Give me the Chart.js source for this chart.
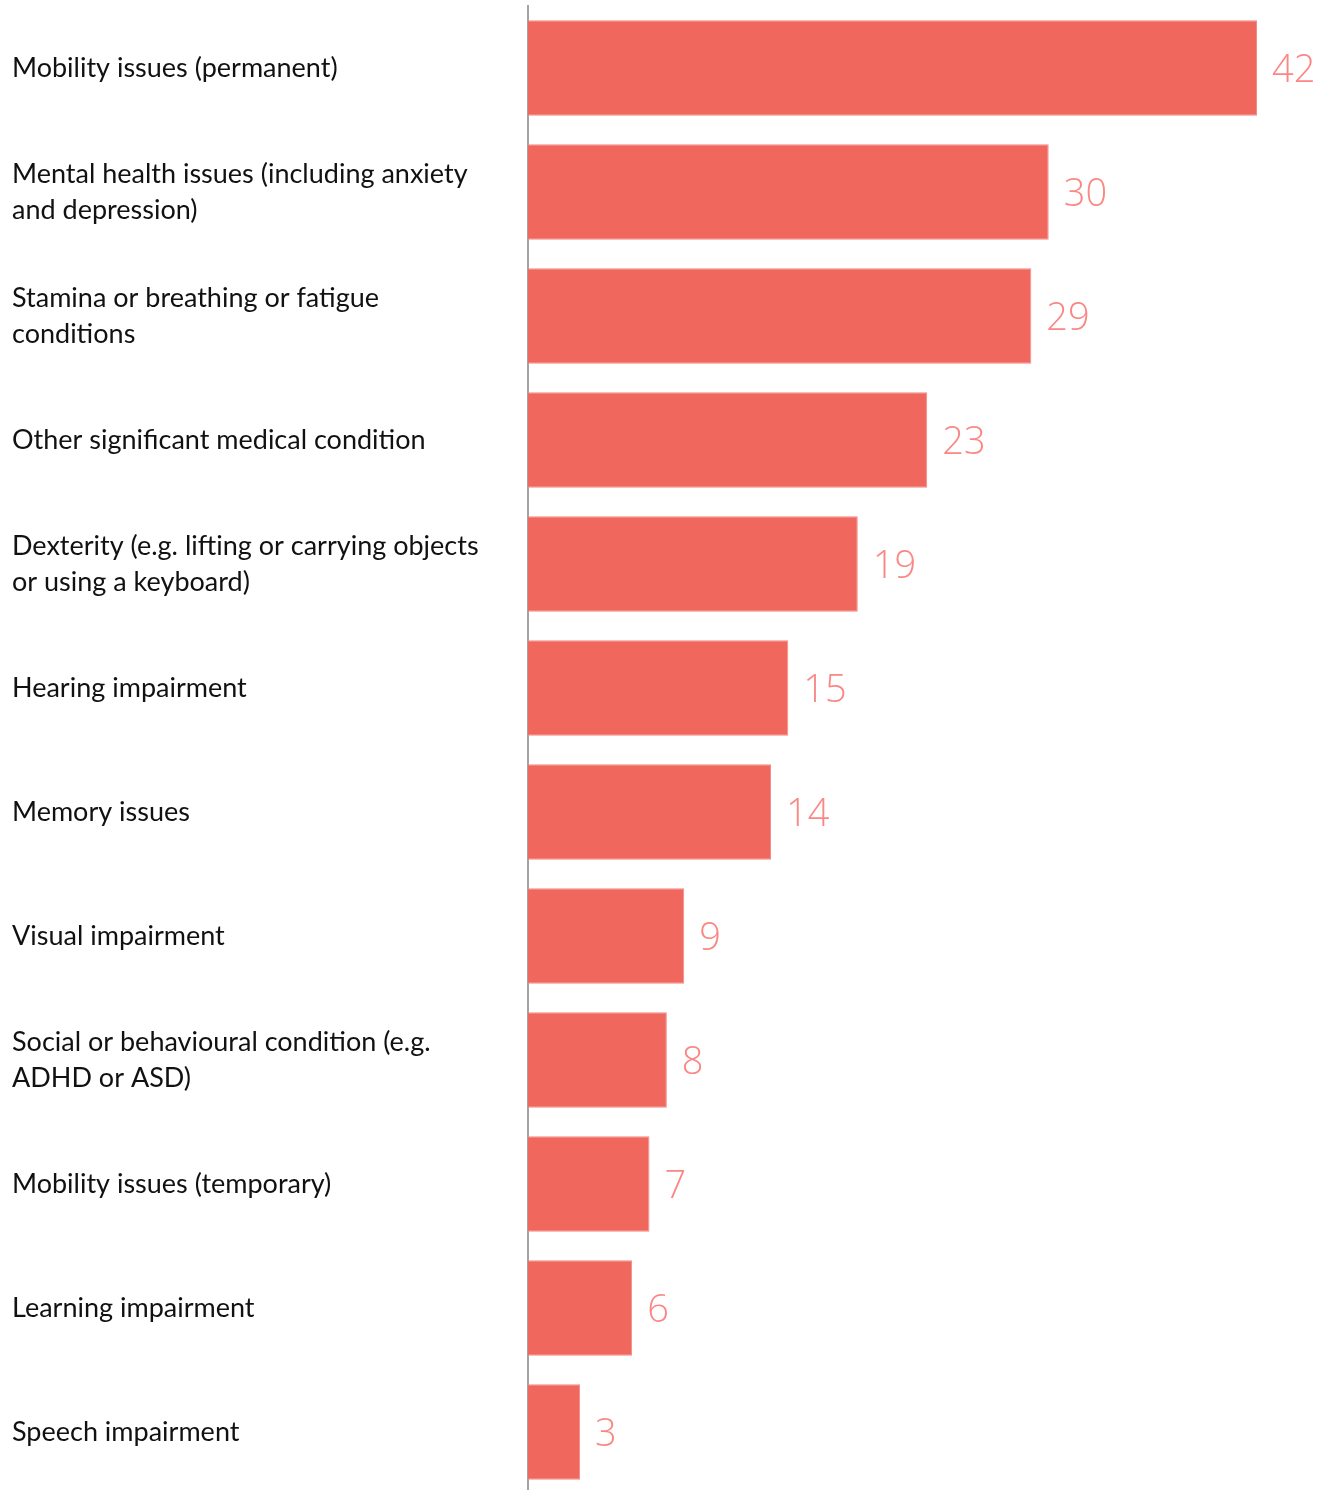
<!DOCTYPE html>
<html>
<head>
<meta charset="utf-8">
<script src="https://cdn.jsdelivr.net/npm/chart.js@4"></script>
<style>
  html, body { margin: 0; padding: 0; background: #ffffff; overflow: hidden; }
  body { width: 1329px; height: 1490px; position: relative; }
  /* the plot runs slightly past the bottom edge of the page */
  #wrap { width: 1329px; height: 1524px; position: absolute; left: 0; top: -12px; }
</style>
</head>
<body>
<div id="wrap"><canvas id="chart"></canvas></div>
<script>
// Categories (multi-line where the label wraps) and their percentages
const categories = [
  ["Mobility issues (permanent)"],
  ["Mental health issues (including anxiety", "and depression)"],
  ["Stamina or breathing or fatigue", "conditions"],
  ["Other significant medical condition"],
  ["Dexterity (e.g. lifting or carrying objects", "or using a keyboard)"],
  ["Hearing impairment"],
  ["Memory issues"],
  ["Visual impairment"],
  ["Social or behavioural condition (e.g.", "ADHD or ASD)"],
  ["Mobility issues (temporary)"],
  ["Learning impairment"],
  ["Speech impairment"]
];
const values = [42, 30, 29, 23, 19, 15, 14, 9, 8, 7, 6, 3];

// Writes each bar's value just past its end
const valueLabels = {
  id: 'valueLabels',
  afterDatasetsDraw(chart) {
    const ctx = chart.ctx;
    const meta = chart.getDatasetMeta(0);
    ctx.save();
    ctx.font = '300 38px "Open Sans", sans-serif';
    ctx.fillStyle = '#FA8784';
    ctx.textAlign = 'left';
    ctx.textBaseline = 'middle';
    meta.data.forEach((bar, i) => {
      ctx.fillText(String(values[i]), bar.x + 15, bar.y + 3);
    });
    ctx.restore();
  }
};

new Chart(document.getElementById('chart'), {
  type: 'bar',
  data: {
    labels: categories,
    datasets: [{
      data: values,
      backgroundColor: '#F0675E',
      borderColor: '#F48C85',
      borderWidth: 1,
      borderSkipped: 'left',
      categoryPercentage: 1.0,
      barPercentage: 0.77
    }]
  },
  options: {
    indexAxis: 'y',
    responsive: true,
    maintainAspectRatio: false,
    animation: false,
    layout: { padding: { top: 6, right: 72, bottom: 0, left: 12 } },
    plugins: {
      legend: { display: false },
      tooltip: { enabled: false }
    },
    scales: {
      x: {
        display: false,
        min: 0,
        max: 42
      },
      y: {
        grid: { display: false, drawTicks: false },
        border: { display: true, color: '#A3A3A3', width: 2 },
        ticks: {
          crossAlign: 'far',
          padding: 0,
          color: '#111111',
          font: { family: 'Lato, "Open Sans", sans-serif', size: 27, lineHeight: 36 / 27 },
          autoSkip: false
        },
        afterFit(scale) { scale.width = 516; }
      }
    }
  },
  plugins: [valueLabels]
});
</script>
</body>
</html>
